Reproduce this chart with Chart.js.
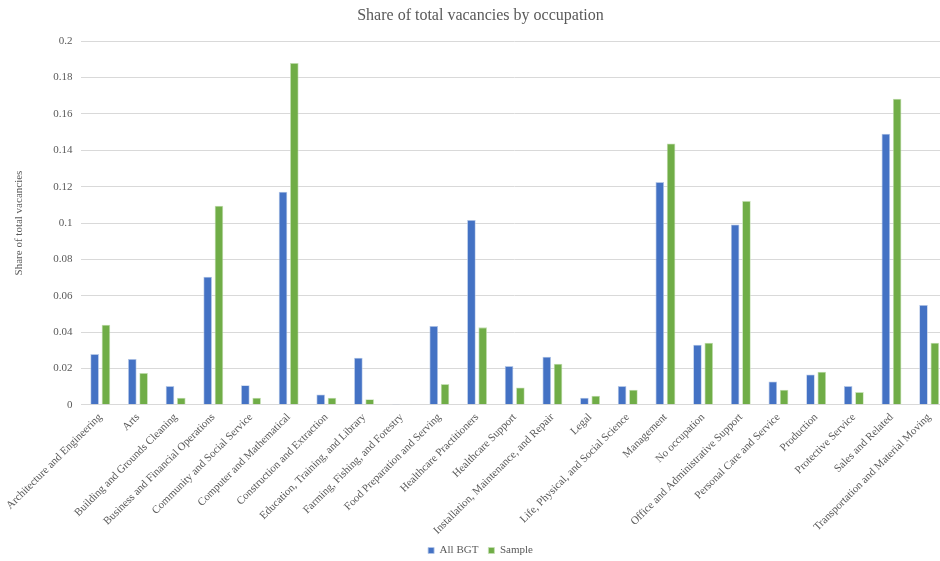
<!DOCTYPE html>
<html>
<head>
<meta charset="utf-8">
<script src="https://cdn.jsdelivr.net/npm/chart.js@4/dist/chart.umd.min.js"></script>
<style>
  html, body { margin: 0; padding: 0; background: #fff; overflow: hidden; }
  #wrap { width: 948px; height: 561px; }
</style>
</head>
<body>
<div id="wrap"><canvas id="c" width="948" height="561"></canvas></div>
<script>
const occupations = [
  "Architecture and Engineering", "Arts", "Building and Grounds Cleaning",
  "Business and Financial Operations", "Community and Social Service",
  "Computer and Mathematical", "Construction and Extraction",
  "Education, Training, and Library", "Farming, Fishing, and Forestry",
  "Food Preparation and Serving", "Healthcare Practitioners", "Healthcare Support",
  "Installation, Maintenance, and Repair", "Legal", "Life, Physical, and Social Science",
  "Management", "No occupation", "Office and Administrative Support",
  "Personal Care and Service", "Production", "Protective Service",
  "Sales and Related", "Transportation and Material Moving"
];
const allBGT = [
  0.0279, 0.0252, 0.0103, 0.0705, 0.0108, 0.1172, 0.0057, 0.0259, 0.0005, 0.0434,
  0.1017, 0.0213, 0.0264, 0.0039, 0.0103, 0.1225, 0.0331, 0.0992, 0.0128, 0.0167,
  0.0103, 0.1491, 0.0549
];
const sample = [
  0.0441, 0.0175, 0.0039, 0.1095, 0.0039, 0.1880, 0.0039, 0.0031, 0.0004, 0.0114,
  0.0426, 0.0095, 0.0226, 0.0050, 0.0083, 0.1438, 0.0342, 0.1122, 0.0083, 0.0182,
  0.0070, 0.1684, 0.0342
];
const yTicks = [0, 0.02, 0.04, 0.06, 0.08, 0.1, 0.12, 0.14, 0.16, 0.18, 0.2];

const serif = "'Liberation Serif', 'Times New Roman', serif";
const grey = "#595959";

new Chart(document.getElementById("c"), {
  type: "bar",
  data: {
    labels: occupations,
    datasets: [
      { label: "All BGT", data: allBGT, backgroundColor: "#4472C4",
        borderColor: "#b4c7e7", borderWidth: 0.8 },
      { label: "Sample", data: sample, backgroundColor: "#70AD47",
        borderColor: "#c5e0b4", borderWidth: 0.8 }
    ]
  },
  options: {
    responsive: false,
    animation: false,
    devicePixelRatio: 1,
    layout: { padding: { left: 13, right: 0, top: 4, bottom: -5 } },
    datasets: { bar: { categoryPercentage: 0.6, barPercentage: 0.76 } },
    plugins: {
      title: {
        display: true,
        text: "Share of total vacancies by occupation",
        color: grey,
        font: { family: serif, size: 16, weight: "normal" },
        padding: { top: 2, bottom: 16 }
      },
      legend: {
        position: "bottom",
        labels: {
          color: grey,
          font: { family: serif, size: 11 },
          boxWidth: 6, boxHeight: 6, padding: 10
        }
      },
      tooltip: { enabled: false }
    },
    scales: {
      x: {
        grid: { display: false, drawTicks: false },
        border: { color: "#d9d9d9", width: 1 },
        afterFit: (scale) => { scale.height -= 8; },
        ticks: {
          color: grey,
          font: { family: serif, size: 11 },
          maxRotation: 45, minRotation: 45, autoSkip: false, padding: 6
        }
      },
      y: {
        min: 0, max: 0.2,
        afterBuildTicks: (axis) => { axis.ticks = yTicks.map(v => ({ value: v })); },
        grid: { color: "#d9d9d9", lineWidth: 1, drawTicks: false },
        border: { display: false },
        ticks: {
          color: grey,
          font: { family: serif, size: 11 },
          padding: 9,
          callback: (v) => String(Math.round(v * 100) / 100)
        },
        title: {
          display: true,
          text: "Share of total vacancies",
          color: grey,
          font: { family: serif, size: 11 },
          padding: { top: 0, bottom: 18 }
        }
      }
    }
  }
});
</script>
</body>
</html>
